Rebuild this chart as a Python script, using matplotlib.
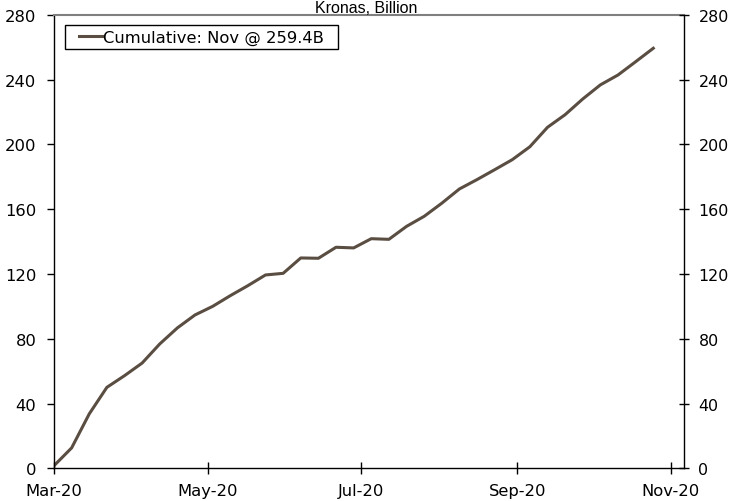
import matplotlib
matplotlib.use("Agg")
import matplotlib.pyplot as plt
import matplotlib.dates as mdates
import matplotlib.patches as mpatches
import pandas as pd

# ---- data ----
start_date = "2020-03-01"
cumulative = [1.6, 12.6, 33.6, 50.0, 57.2, 65.0, 76.8, 86.7, 94.7, 100.0,
              106.6, 112.8, 119.4, 120.4, 129.9, 129.7, 136.5, 136.1, 141.8, 141.4,
              149.4, 155.6, 163.7, 172.5, 178.3, 184.4, 190.6, 198.6, 210.6, 218.4,
              228.1, 236.8, 242.9, 251.1, 259.4]
dates = pd.date_range(start_date, periods=len(cumulative), freq="7D")
tick_dates = pd.to_datetime(["2020-03-01", "2020-05-01", "2020-07-01", "2020-09-01", "2020-11-01"])
y_ticks = [0, 40, 80, 120, 160, 200, 240, 280]
series_label = "Cumulative: Nov @ 259.4B"
title = "Kronas, Billion"

plt.rcParams['font.family'] = ['DejaVu Sans']

W, H = 730, 502
fig = plt.figure(figsize=(W / 100, H / 100), dpi=100)
ax = fig.add_axes([54 / W, 1 - 469.3 / H, (683.5 - 54) / W, (469.3 - 15.9) / H])

line_color = "#5a4d42"
ax.plot(dates, cumulative, color=line_color, lw=2.2, label=series_label)

ax.set_ylim(0, 280)
ax.set_yticks(y_ticks)
ax.set_xlim(pd.Timestamp("2020-03-01"), pd.Timestamp("2020-11-06"))
ax.set_xticks(tick_dates)
ax.xaxis.set_major_formatter(mdates.DateFormatter("%b-%y"))

fs = 11.8
ax.tick_params(axis='y', direction='out', length=5, width=1, pad=7.7, labelsize=fs, colors='black')
ax.tick_params(axis='x', direction='inout', length=8, width=1, pad=6.5, labelsize=fs)

for s in ['left', 'bottom', 'right']:
    ax.spines[s].set_color('black')
    ax.spines[s].set_linewidth(1)
ax.spines['top'].set_color('#7f7f7f')
ax.spines['top'].set_linewidth(1.5)

ax2 = ax.twinx()
ax2.set_ylim(0, 280)
ax2.set_yticks(y_ticks)
ax2.tick_params(axis='y', direction='inout', length=6.5, width=1, pad=7.5, labelsize=11.4)
for s in ax2.spines.values():
    s.set_visible(False)

leg = ax.legend(loc='center left', bbox_to_anchor=(79 / W, 1 - 38 / H),
                bbox_transform=fig.transFigure, frameon=False,
                fontsize=fs, handlelength=1.4, handletextpad=0.05,
                borderpad=0, borderaxespad=0)

fig.patches.append(mpatches.Rectangle((65 / W, 1 - 50 / H), 273 / W, 24 / H,
                                      transform=fig.transFigure, facecolor='none',
                                      edgecolor='black', lw=1, zorder=5))

fig.text(366 / W, 1 - 12.6 / H, title, ha='center', va='baseline',
         fontsize=11.5, family=['Liberation Sans'])

fig.savefig("out.png", dpi=100)
